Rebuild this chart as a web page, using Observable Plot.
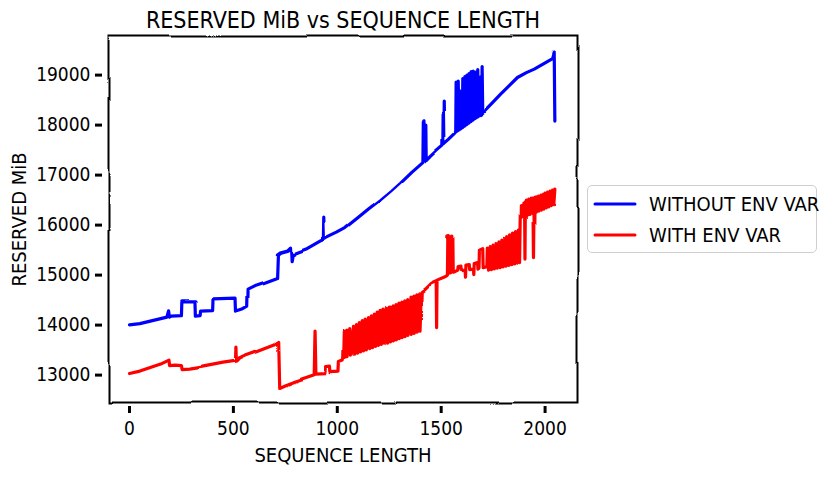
<!DOCTYPE html>
<html>
<head>
<meta charset="utf-8">
<script src="https://cdn.jsdelivr.net/npm/d3@7"></script>
<script src="https://cdn.jsdelivr.net/npm/@observablehq/plot@0.6"></script>
<style>
  body { margin: 0; background: #fff; }
  #wrap { position: relative; width: 828px; height: 477px; overflow: hidden; font-family: "Liberation Sans Narrow", "DejaVu Sans Condensed", sans-serif; }
  #legend { position: absolute; left: 587px; top: 185px; width: 230px; height: 68px; border: 1.5px solid #cfcfcf; border-radius: 5px; background: #fff; box-sizing: border-box; }
  .item { position: absolute; left: 5px; height: 24px; display: flex; align-items: center; font-size: 20px; color: #000; white-space: nowrap; }
  .item svg { margin-right: 12px; }
</style>
</head>
<body>
<div id="wrap"></div>
<script>
// ---- data ----
const seriesNames = ["WITHOUT ENV VAR", "WITH ENV VAR"];
const seriesColors = ["#0000ff", "#ff0000"];
const xTicks = [0, 500, 1000, 1500, 2000];
const yTicks = [13000, 14000, 15000, 16000, 17000, 18000, 19000];

const withoutEnvVar = [
  [0,14006],[50,14030],[100,14080],[150,14130],[180,14160],[188,14286],[192,14160],[200,14180],[250,14190],
  [252,14466],[315,14466],[317,14180],[340,14190],[342,14280],[400,14290],[402,14506],[508,14520],
  [510,14280],[540,14320],[564,14380],[566,14720],[600,14790],[650,14860],[708,14950],[712,15420],
  [725,15460],[760,15500],[775,15560],[778,15290],[783,15400],[800,15440],[850,15520],[919,15686],
  [933,15700],[935,16160],[938,15710],[950,15740],[1000,15840],[1040,15930],[1100,16130],[1150,16300],
  [1208,16486],[1260,16670],[1305,16840],[1360,17060],[1412,17250],[1414,18060],[1417,18086],[1419,17280],
  [1424,17300],[1426,18000],[1428,17310],[1449,17400],[1480,17520],[1508,17620],[1510,18480],[1513,17640],
  [1540,17740],[1570,17860],[1572,18880],[1575,17880],[1580,17900],[1582,18900],[1586,17910],[1592,17930],
  [1594,18700],[1597,17940],[1602,17960],[1604,18950],[1608,17970],[1612,17990],[1614,18990],[1618,18000],
  [1622,18020],[1624,19020],[1628,18030],[1632,18050],[1634,19050],[1638,18060],[1642,18080],[1644,19090],
  [1648,18090],[1652,18110],[1654,19100],[1658,18120],[1662,18140],[1664,19080],[1668,18150],[1674,18170],
  [1676,19130],[1680,18180],[1686,18200],[1688,18980],[1692,18210],[1695,18220],[1697,19190],[1700,18250],
  [1740,18420],[1786,18620],[1830,18800],[1867,18952],[1910,19050],[1948,19120],[1990,19220],[2036,19330],
  [2044,19440],[2047,18080]
];

const withEnvVar = [
  [0,13032],[50,13080],[100,13150],[150,13220],[185,13290],[190,13300],[193,13190],[220,13200],[250,13190],
  [253,13110],[290,13120],[350,13160],[400,13200],[450,13240],[515,13280],[517,13560],[519,13290],
  [530,13340],[560,13400],[600,13460],[650,13540],[700,13620],[718,13673],[723,12753],[750,12800],
  [800,12880],[850,12950],[889,13006],[893,13880],[897,13020],[945,13030],[948,13150],[967,13160],
  [969,13050],[1008,13060],[1010,13250],[1028,13280],[1031,13330],
  [1034,13860],[1040,13335],[1046,13880],[1052,13350],[1060,13910],[1068,13380],[1078,13955],[1084,13400],
  [1092,13990],[1098,13420],[1106,14030],[1112,13445],[1120,14070],[1126,13465],[1134,14100],[1140,13485],
  [1150,14150],[1156,13510],[1164,14185],[1170,13530],[1178,14220],[1184,13555],[1192,14260],[1198,13575],
  [1206,14295],[1212,13595],[1220,14320],[1226,13620],[1236,14355],[1242,13640],[1250,14380],[1256,13665],
  [1264,14405],[1270,13685],[1278,14430],[1284,13705],[1292,14460],[1298,13730],[1306,14480],[1312,13750],
  [1320,14505],[1326,13770],[1334,14530],[1340,13795],[1350,14560],[1356,13815],[1364,14580],[1370,13835],
  [1378,14605],[1384,13860],[1392,14625],[1398,13880],[1404,14650],
  [1420,14700],[1449,14820],[1476,14870],[1478,13950],[1480,14880],[1521,14952],[1530,14980],[1532,15780],
  [1539,15790],[1541,15020],[1547,15030],[1549,15760],[1556,15780],[1558,15040],[1566,15050],[1580,15080],
  [1582,15170],[1595,15180],[1597,15090],[1615,15100],[1617,14960],[1619,15200],[1635,15210],[1637,15110],
  [1655,15120],[1657,15010],[1659,15230],[1675,15250],[1677,15120],[1682,15140],[1684,15500],[1700,15530],
  [1702,15150],[1720,15170],
  [1722,15540],[1728,15100],[1736,15570],[1742,15110],[1750,15600],[1756,15125],[1764,15630],[1770,15140],
  [1778,15665],[1784,15150],[1792,15700],[1798,15165],[1806,15735],[1812,15180],[1820,15770],[1826,15195],
  [1834,15805],[1840,15210],[1848,15840],[1854,15225],[1862,15870],[1868,15240],[1876,15900],[1882,15250],
  [1886,16390],[1892,16160],[1898,16440],[1904,16180],[1906,16470],[1908,15320],[1910,16500],[1916,16200],
  [1922,16520],[1928,16215],[1934,16540],[1940,16235],[1946,16555],[1949,15350],[1952,16565],[1958,16260],
  [1964,16580],[1970,16280],[1976,16600],[1982,16300],[1988,16620],[1994,16320],[2000,16640],[2006,16345],
  [2012,16660],[2018,16365],[2024,16680],[2030,16390],[2036,16700],[2042,16410],[2047,16720]
];

const FONT = '"Liberation Sans Narrow", "DejaVu Sans Condensed", sans-serif';

const plot = Plot.plot({
  width: 828,
  height: 477,
  marginLeft: 108,
  marginRight: 251,
  marginTop: 36,
  marginBottom: 75,
  style: { fontFamily: FONT, fontSize: "19px", color: "#000", background: "#fff", overflow: "visible" },
  x: { domain: [-101, 2156], label: null },
  y: { domain: [12452, 19772], label: null },
  marks: [
    Plot.line(withoutEnvVar, { x: d => d[0], y: d => d[1], stroke: seriesColors[0], strokeWidth: 3.2 }),
    Plot.line(withEnvVar, { x: d => d[0], y: d => d[1], stroke: seriesColors[1], strokeWidth: 3.2 }),
    Plot.frame({ stroke: "#000", strokeWidth: 2 }),
    Plot.axisX({ ticks: xTicks, tickFormat: d => String(d), tickSize: 7, tickPadding: 8, strokeWidth: 3, dy: 4, fontSize: 19, label: null }),
    Plot.axisY({ ticks: yTicks, tickFormat: d => String(d), tickSize: 7, tickPadding: 5, strokeWidth: 3, dx: -6, fontSize: 19, label: null }),
    Plot.text(["SEQUENCE LENGTH"], { frameAnchor: "bottom", lineAnchor: "middle", dy: 53, fontSize: 20, fill: "#000" }),
    Plot.text(["RESERVED MiB"], { frameAnchor: "left", textAnchor: "middle", lineAnchor: "middle", rotate: -90, dx: -89, fontSize: 20, fill: "#000" }),
    Plot.text(["RESERVED MiB vs SEQUENCE LENGTH"], { frameAnchor: "top", lineAnchor: "middle", dy: -16, fontSize: 23, fill: "#000" })
  ]
});

// xkcd-like wobble filter
const ns = "http://www.w3.org/2000/svg";
const defs = document.createElementNS(ns, "defs");
const filter = document.createElementNS(ns, "filter");
filter.setAttribute("id", "xkcd");
filter.setAttribute("filterUnits", "userSpaceOnUse");
filter.setAttribute("x", "0"); filter.setAttribute("y", "0");
filter.setAttribute("width", "828"); filter.setAttribute("height", "477");
const turb = document.createElementNS(ns, "feTurbulence");
turb.setAttribute("type", "fractalNoise");
turb.setAttribute("baseFrequency", "0.016");
turb.setAttribute("numOctaves", "1");
turb.setAttribute("seed", "7");
turb.setAttribute("result", "noise");
const disp = document.createElementNS(ns, "feDisplacementMap");
disp.setAttribute("in", "SourceGraphic");
disp.setAttribute("in2", "noise");
disp.setAttribute("scale", "5");
disp.setAttribute("xChannelSelector", "R");
disp.setAttribute("yChannelSelector", "G");
filter.appendChild(turb); filter.appendChild(disp); defs.appendChild(filter);
plot.insertBefore(defs, plot.firstChild);
plot.querySelectorAll('[aria-label="line"], [aria-label="frame"]').forEach(el => el.setAttribute("filter", "url(#xkcd)"));

const wrap = document.getElementById("wrap");
wrap.appendChild(plot);

// legend
const legend = document.createElement("div");
legend.id = "legend";
seriesNames.forEach((name, i) => {
  const item = document.createElement("div");
  item.className = "item";
  item.style.top = (i === 0 ? 6 : 37) + "px";
  item.innerHTML = `<svg width="44" height="6"><line x1="2" y1="3" x2="42" y2="3" stroke="${seriesColors[i]}" stroke-width="3" stroke-linecap="round"/></svg><span>${name}</span>`;
  legend.appendChild(item);
});
wrap.appendChild(legend);
</script>
</body>
</html>
